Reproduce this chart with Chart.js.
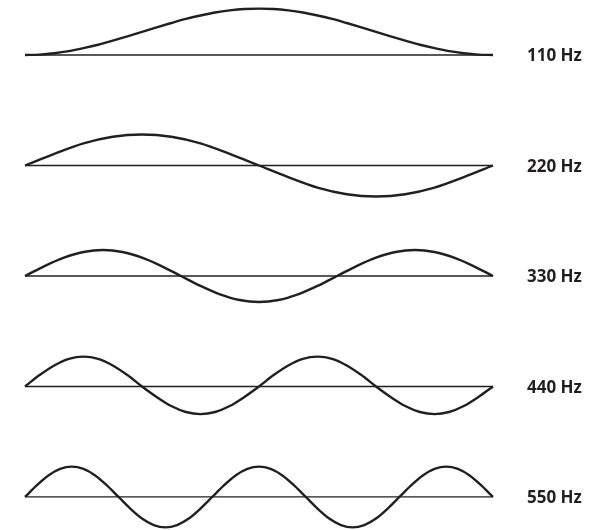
<!DOCTYPE html>
<html>
<head>
<meta charset="utf-8">
<script src="https://cdn.jsdelivr.net/npm/chart.js@4/dist/chart.umd.min.js"></script>
<style>
  html, body { margin: 0; padding: 0; background: #fff; }
  #wrap { width: 613px; height: 530px; }
</style>
</head>
<body>
<div id="wrap"><canvas id="chart"></canvas></div>
<script>
// one wave per row (displacement, row spacing = 100)
const labels = ['110 Hz', '220 Hz', '330 Hz', '440 Hz', '550 Hz']
const offsets = [400, 300, 200, 100, 0]

const wave110 = [
  0, 0.4, 1.6, 3.5, 6.2, 9.3, 13, 16.9, 21, 25.1, 29, 32.7, 35.8, 38.5, 40.4, 41.6,
  42, 41.6, 40.4, 38.5, 35.8, 32.7, 29, 25.1, 21, 16.9, 13, 9.3, 6.2, 3.5, 1.6, 0.4, 0
]
const wave220 = [
  0, 10.5, 20, 26, 28, 26, 20, 10.5,
  0, -10.5, -20, -26, -28, -26, -20, -10.5, 0
]
const wave330 = [
  0, 9, 16.6, 21.7, 23.5, 21.7, 16.6, 9,
  0, -9, -16.6, -21.7, -23.5, -21.7, -16.6, -9,
  0, 9, 16.6, 21.7, 23.5, 21.7, 16.6, 9, 0
]
const wave440 = [
  0, 10.3, 19, 25, 27, 25, 19, 10.3,
  0, -9.5, -17.7, -23.1, -25, -23.1, -17.7, -9.5,
  0, 10.3, 19, 25, 27, 25, 19, 10.3,
  0, -9.5, -17.7, -23.1, -25, -23.1, -17.7, -9.5, 0
]
const wave550 = [
  0, 10.5, 19.5, 25.4, 27.5, 25.4, 19.5, 10.5,
  0, -10.5, -19.5, -25.4, -27.5, -25.4, -19.5, -10.5,
  0, 10.5, 19.5, 25.4, 27.5, 25.4, 19.5, 10.5,
  0, -10.5, -19.5, -25.4, -27.5, -25.4, -19.5, -10.5,
  0, 10.5, 19.5, 25.4, 27.5, 25.4, 19.5, 10.5, 0
]

const waves = [wave110, wave220, wave330, wave440, wave550]
const ink = '#231f20'

const datasets = []
waves.forEach((w, r) => {
  datasets.push({
    data: w.map((v, i) => ({ x: i / (w.length - 1), y: offsets[r] + v })),
    borderColor: ink,
    borderWidth: 2.4,
    cubicInterpolationMode: 'monotone',
    pointRadius: 0,
    clip: false
  })
  datasets.push({
    data: [{ x: 0, y: offsets[r] }, { x: 1, y: offsets[r] }],
    borderColor: ink,
    borderWidth: 1.3,
    pointRadius: 0,
    clip: false
  })
})

const rowLabels = {
  id: 'rowLabels',
  afterDraw (chart) {
    const ctx = chart.ctx
    const xs = chart.scales.x
    const ys = chart.scales.y
    ctx.save()
    ctx.fillStyle = ink
    ctx.font = 'bold 17px "Open Sans"'
    ctx.textBaseline = 'middle'
    labels.forEach((t, r) => {
      ctx.fillText(t, xs.getPixelForValue(1) + 34, ys.getPixelForValue(offsets[r]) + 1.5)
    })
    ctx.restore()
  }
}

new Chart(document.getElementById('chart').getContext('2d'), {
  type: 'line',
  data: { datasets: datasets },
  options: {
    responsive: true,
    maintainAspectRatio: false,
    animation: false,
    layout: { padding: { left: 25, right: 120, top: 0, bottom: 0 } },
    scales: {
      x: { type: 'linear', min: 0, max: 1, display: false },
      y: { min: -29.9, max: 449.8, display: false }
    },
    plugins: { legend: { display: false }, tooltip: { enabled: false } }
  },
  plugins: [rowLabels]
})
</script>
</body>
</html>
